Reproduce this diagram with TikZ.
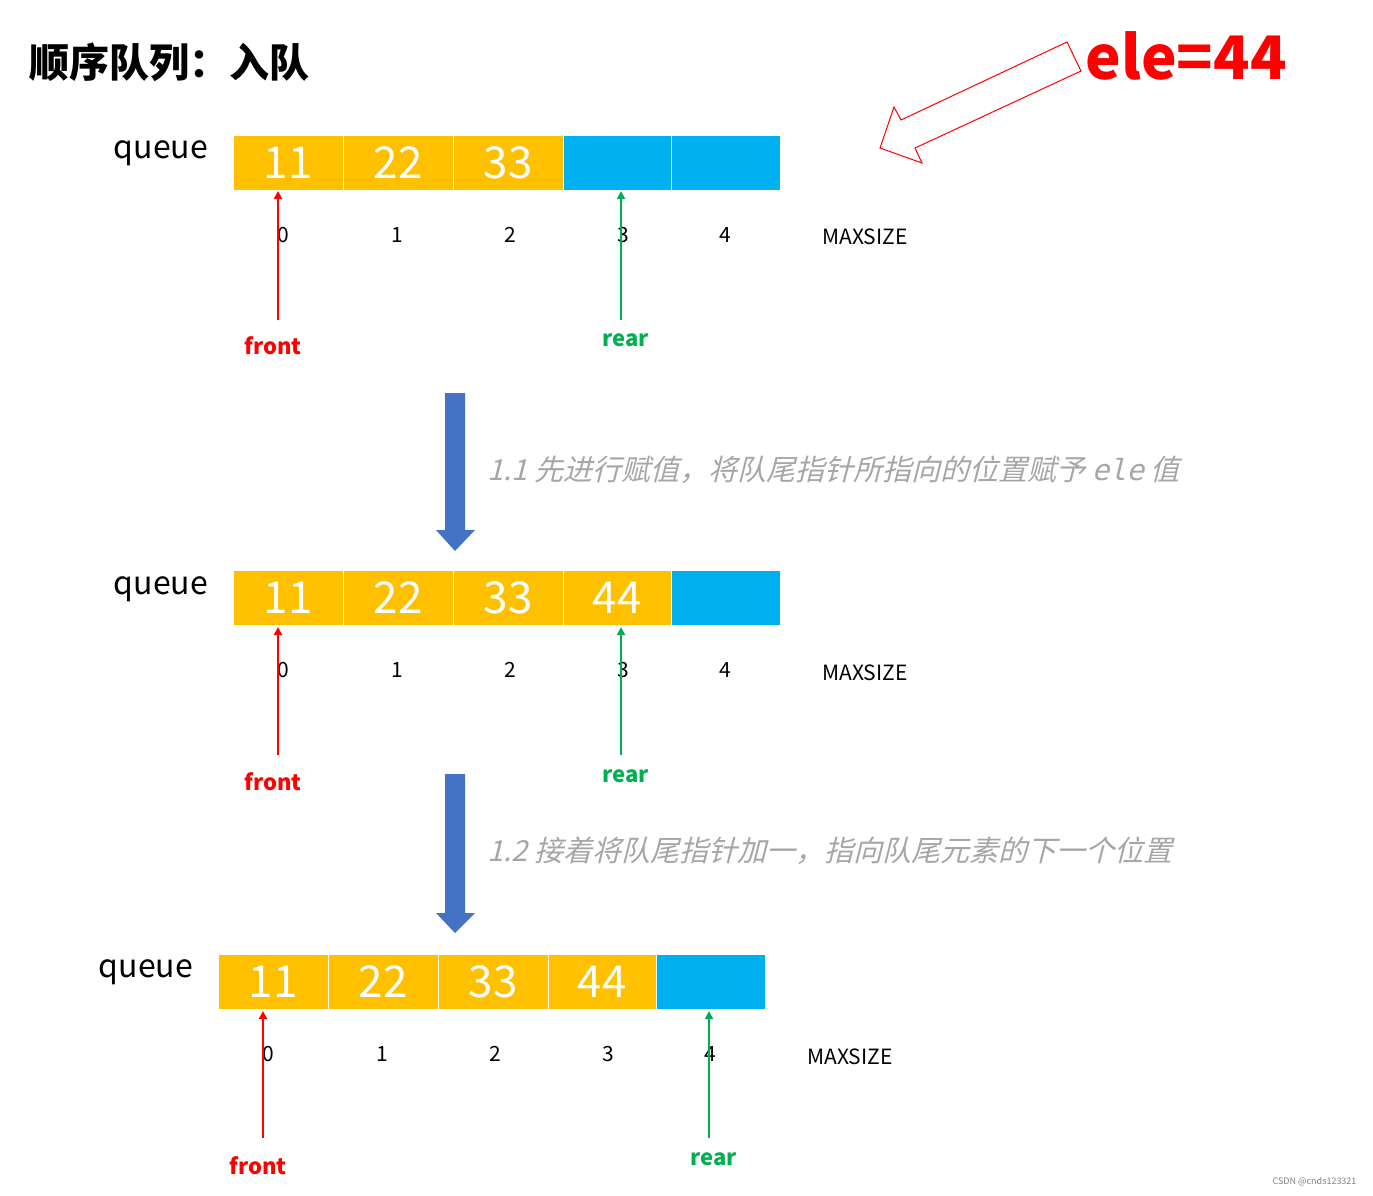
\documentclass[tikz,border=0pt]{standalone}
\usepackage{fontspec}
\usetikzlibrary{arrows.meta}
\setmainfont{Noto Sans CJK SC}
\newfontfamily\cjk{Noto Sans CJK SC}
\newfontfamily\cjkit[FakeSlant=0.25]{Noto Sans CJK SC}
\newfontfamily\mono[FakeSlant=0.25]{DejaVu Sans Mono}
\begin{document}
\definecolor{cOr}{HTML}{FFC000}
\definecolor{cBl}{HTML}{00B0F0}
\definecolor{cRd}{HTML}{FF0000}
\definecolor{cGr}{HTML}{00B050}
\definecolor{cAr}{HTML}{4472C4}
\definecolor{cGy}{HTML}{A6A6A6}
\begin{tikzpicture}[x=1pt,y=-1pt,
  full/.style={fill=cOr,draw=white,line width=0.8pt,text=white,font=\fontsize{44}{44}\selectfont,inner sep=0pt},
  empty/.style={fill=cBl,draw=white,line width=0.8pt,inner sep=0pt},
  idx/.style={font=\fontsize{21}{21}\selectfont},
  ql/.style={font=\fontsize{32}{32}\selectfont},
  lab/.style={font=\bfseries\fontsize{22}{22}\selectfont},
  parr/.style={-{Triangle[length=8pt,width=8pt]},line width=2.5pt}]
\useasboundingbox (0,0) rectangle (1373,1195);
\node[anchor=west,font=\bfseries\fontsize{40}{40}\selectfont] (title) at (26,62) {顺序队列：入队};
\node[anchor=west,text=cRd,font=\bfseries\fontsize{60}{60}\selectfont] (ele) at (1082,56) {ele=44};
\draw[cRd,line width=1pt] (1067,42)--(901,120)--(894,107)--(880,148)--(922,163)--(915,148)--(1081,71)--cycle;
% rows
\foreach \r/\y/\dx/\n in {1/163/0/3,2/598/0/4,3/982/-15/4}{
  \foreach \i/\a/\b/\v in {0/233/343/11,1/343/453/22,2/453/563/33,3/563/671/44,4/671/780/}{
    \pgfmathtruncatemacro{\filled}{\i<\n ? 1 : 0}
    \ifnum\filled=1
      \node[full,minimum width={\b-\a},minimum height=55,anchor=west] (c\r\i) at (\a+\dx,\y) {\v};
    \else
      \node[empty,minimum width={\b-\a},minimum height=55,anchor=west] (c\r\i) at (\a+\dx,\y) {};
    \fi
  }
}
\node[ql] (q1) at (161,153) {queue};
\node[ql] (q2) at (161,589) {queue};
\node[ql] (q3) at (146,972) {queue};
\foreach \r/\y/\dx in {1/235/0,2/670/0,3/1054/-15}{
  \foreach \i/\x in {0/283,1/397,2/510,3/623,4/725}{
    \node[idx] (i\r\i) at (\x+\dx,\y) {\i};
  }
}
\node[idx] (m1) at (865,237) {MAXSIZE};
\node[idx] (m2) at (865,673) {MAXSIZE};
\node[idx] (m3) at (850,1057) {MAXSIZE};
% pointers
\node[lab,text=cRd] (f1) at (273,346) {front};
\node[lab,text=cGr] (r1) at (626,340) {rear};
\node[lab,text=cRd] (f2) at (273,782) {front};
\node[lab,text=cGr] (r2) at (626,776) {rear};
\node[lab,text=cRd] (f3) at (258,1166) {front};
\node[lab,text=cGr] (r3) at (714,1159) {rear};
\coordinate (fa1) at (278,320); \coordinate (fb1) at (278,191);
\coordinate (ra1) at (621,320); \coordinate (rb1) at (621,191);
\coordinate (fa2) at (278,755); \coordinate (fb2) at (278,627);
\coordinate (ra2) at (621,755); \coordinate (rb2) at (621,627);
\coordinate (fa3) at (263,1138); \coordinate (fb3) at (263,1011);
\coordinate (ra3) at (709,1138); \coordinate (rb3) at (709,1011);
\foreach \k in {1,2,3}{
  \draw[parr,cRd] (fa\k)--(fb\k);
  \draw[parr,cGr] (ra\k)--(rb\k);
}
% big down arrows
\fill[cAr] (445,393)--(465,393)--(465,530)--(475,530)--(455,551)--(436,530)--(445,530)--cycle;
\fill[cAr] (445,774)--(465,774)--(465,913)--(475,913)--(455,933)--(436,913)--(445,913)--cycle;
\node[anchor=west,text=cGy,font=\fontsize{29}{29}\selectfont] (t1) at (484,470) {\cjkit 1.1 先进行赋值，将队尾指针所指向的位置赋予 {\mono ele} 值};
\node[anchor=west,text=cGy,font=\fontsize{29}{29}\selectfont] (t2) at (484,851) {\cjkit 1.2 接着将队尾指针加一，指向队尾元素的下一个位置};
\node[anchor=east,text=gray,font=\fontsize{9}{9}\selectfont] (wm) at (1360,1182) {CSDN @cnds123321};
\end{tikzpicture}
\end{document}
